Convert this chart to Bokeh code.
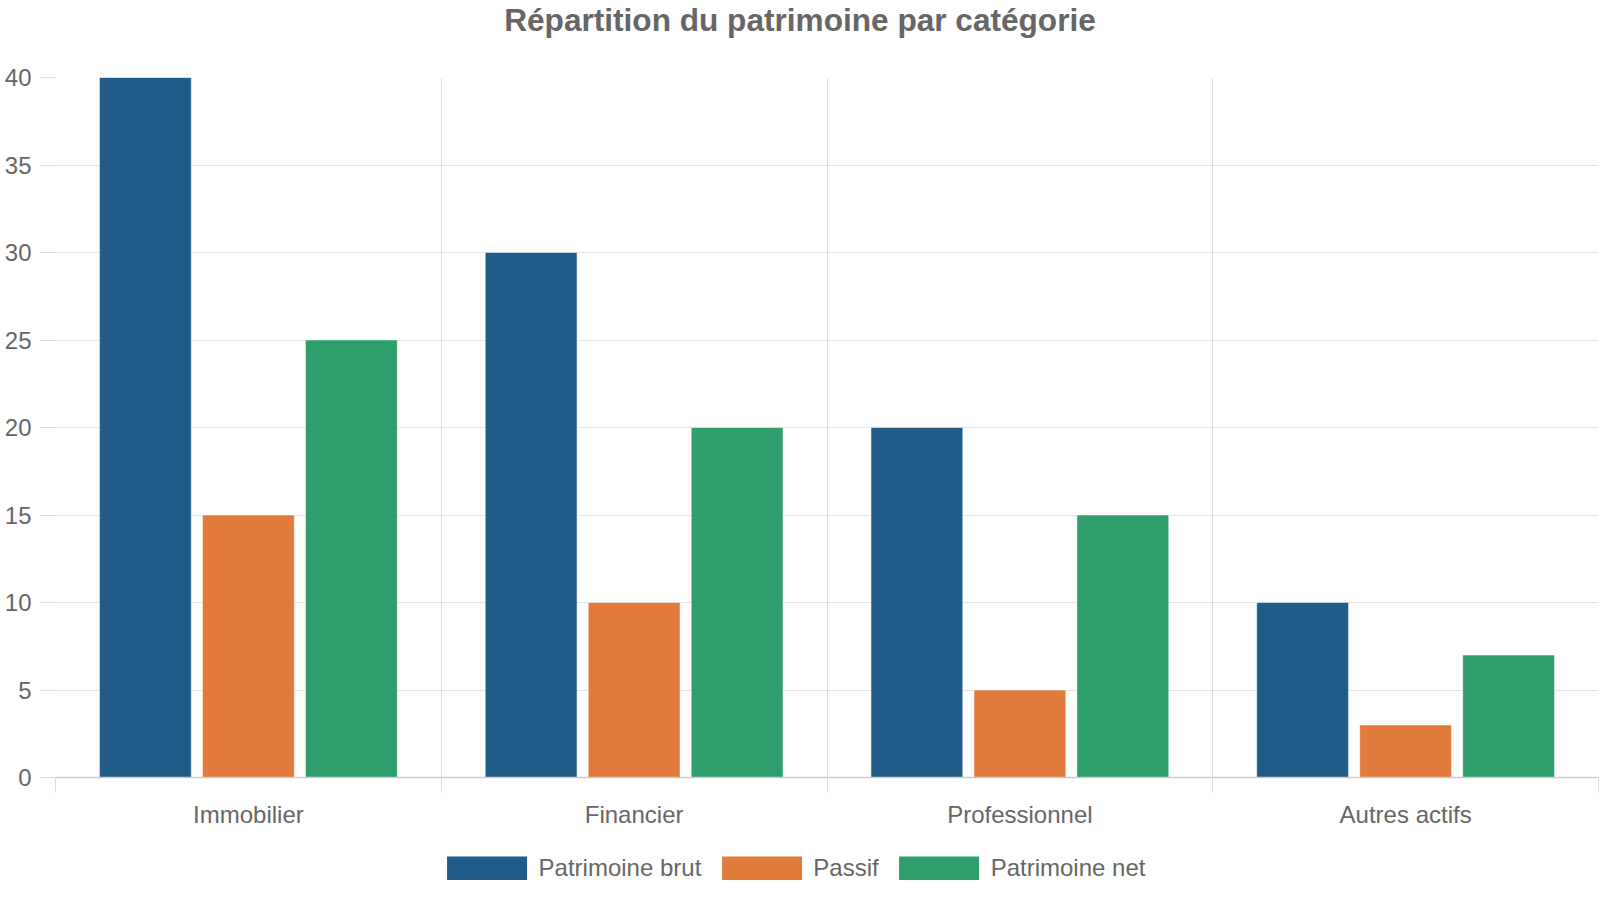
from bokeh.plotting import figure
from bokeh.layouts import column
from bokeh.models import Range1d, FixedTicker, Legend, LegendItem, ColumnDataSource, Label
from bokeh.transform import dodge
from bokeh.embed import file_html
from bokeh.resources import INLINE

categories = ["Immobilier", "Financier", "Professionnel", "Autres actifs"]
patrimoine_brut = [40, 30, 20, 10]
passif = [15, 10, 5, 3]
patrimoine_net = [25, 20, 15, 7]
y_ticks = [0, 5, 10, 15, 20, 25, 30, 35, 40]
title = "Répartition du patrimoine par catégorie"

series = [
    ("brut", "Patrimoine brut", "#205c87"),
    ("passif", "Passif", "#e07b3b"),
    ("net", "Patrimoine net", "#2e9f6c"),
]

FONT = "Liberation Sans"
TEXT = "#666666"
WIDTH = 1599
LEFT = 55

pos = [i + 0.5 for i in range(len(categories))]
src = ColumnDataSource(dict(x=pos, brut=patrimoine_brut, passif=passif, net=patrimoine_net))


def strip(height, **borders):
    f = figure(width=WIDTH, height=height, output_backend="svg", toolbar_location=None,
               x_range=Range1d(0, len(categories)), y_range=Range1d(0, 1),
               x_axis_type=None, y_axis_type=None, min_border=0, **borders)
    f.outline_line_color = None
    f.xgrid.visible = False
    f.ygrid.visible = False
    return f


# title strip (the column lines its frame up with the chart's frame)
tf = strip(40)
tf.add_layout(Label(x=WIDTH / 2 - LEFT, y=20.5, x_units="screen", y_units="screen", text=title,
                    text_align="center", text_baseline="middle", text_font=FONT,
                    text_font_size="31.6px", text_font_style="bold", text_color=TEXT))

p = figure(frame_width=1543, frame_height=700, output_backend="svg", toolbar_location=None,
           x_range=Range1d(0, len(categories)), y_range=Range1d(0, 40),
           min_border_left=LEFT, min_border_right=1, min_border_top=37, min_border_bottom=0)
p.outline_line_color = None

bar_kw = dict(width=0.238, line_color="white", line_alpha=0.5, line_width=1)
for i, (col, label, color) in enumerate(series):
    p.vbar(x=dodge("x", (i - 1) * 0.267, range=p.x_range), top=col, source=src,
           fill_color=color, **bar_kw)

# x axis: labels at centres, ticks at category boundaries
p.xaxis.ticker = FixedTicker(ticks=pos, minor_ticks=list(range(len(categories) + 1)))
p.xaxis.major_label_overrides = {v: c for v, c in zip(pos, categories)}
p.xaxis.major_tick_line_color = None
p.xaxis.minor_tick_in = 0
p.xaxis.minor_tick_out = 15
p.xaxis.minor_tick_line_color = "#dddddd"
p.xaxis.axis_line_color = "#cccccc"
p.xaxis.axis_line_width = 1.5
p.xaxis.major_label_text_font = FONT
p.xaxis.major_label_text_font_size = "24px"
p.xaxis.major_label_text_color = TEXT
p.xaxis.major_label_standoff = 8

p.yaxis.ticker = FixedTicker(ticks=y_ticks)
p.yaxis.axis_line_color = None
p.yaxis.major_tick_in = 0
p.yaxis.major_tick_out = 15
p.yaxis.major_tick_line_color = "#dddddd"
p.yaxis.minor_tick_line_color = None
p.yaxis.major_label_text_font = FONT
p.yaxis.major_label_text_font_size = "24px"
p.yaxis.major_label_text_color = TEXT
p.yaxis.major_label_standoff = 9

p.xgrid.ticker = FixedTicker(ticks=list(range(len(categories) + 1)))
p.xgrid.grid_line_color = "#dddddd"
p.ygrid.grid_line_color = "#e3e3e3"

# legend strip below the chart; its renderers are hidden, only the swatches show
lf = strip(50, min_border_right=72)
items = []
for col, label, color in series:
    r = lf.vbar(x="x", top=col, source=src, width=0.238, fill_color=color, line_color=None,
                visible=False)
    items.append(LegendItem(label=label, renderers=[r]))
legend = Legend(items=items, orientation="horizontal", location="top_center",
                glyph_width=100, glyph_height=30, label_height=24, label_standoff=2, spacing=10,
                label_text_font=FONT, label_text_font_size="24px", label_text_color=TEXT,
                border_line_color=None, background_fill_alpha=0, inactive_fill_alpha=0,
                padding=0, margin=23)
lf.add_layout(legend)

page = column(tf, p, lf, spacing=0)
open("out.html", "w").write(file_html(page, INLINE))
